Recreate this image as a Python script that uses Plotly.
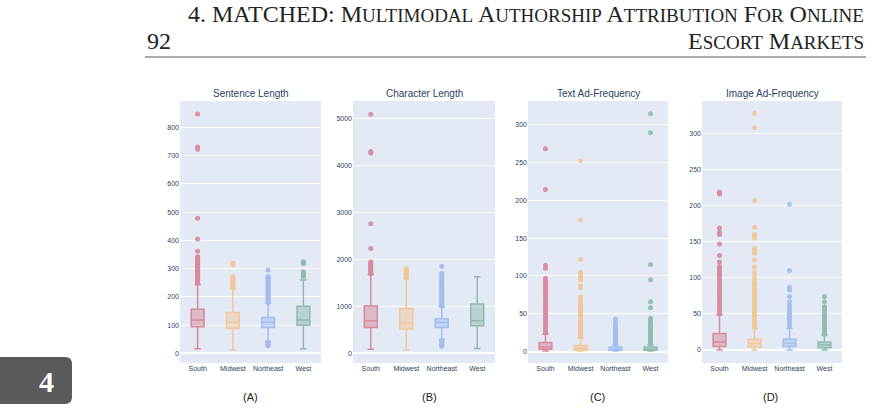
import plotly.graph_objects as go

W, H = 874, 411

regions = ["South", "Midwest", "Northeast", "West"]
colors = ["#d8899a", "#f2c797", "#a3bdef", "#8fbaad"]

panel_titles = ["Sentence Length", "Character Length", "Text Ad-Frequency", "Image Ad-Frequency"]
panel_labels = ["(A)", "(B)", "(C)", "(D)"]

# Sentence Length
sent_q1 = [94, 88, 92, 100]
sent_med = [118, 110, 110, 118]
sent_q3 = [156, 145, 127, 167]
sent_lo = [16, 12, 43, 16]
sent_hi = [244, 229, 177, 260]
sent_out_south = [248, 252, 256, 259, 263, 267, 271, 275, 279, 283, 287, 291, 295, 299, 303, 307,
                  311, 315, 319, 323, 327, 331, 335, 339, 342, 361, 405, 478, 722, 730, 847]
sent_out_midwest = [232, 236, 240, 244, 248, 252, 256, 260, 264, 268, 272, 313, 317, 320]
sent_out_northeast = [27, 30, 33, 36, 39, 180, 184, 188, 192, 196, 200, 204, 208, 212, 216, 220, 224,
                      228, 232, 236, 240, 244, 248, 252, 256, 260, 264, 268, 272, 295]
sent_out_west = [271, 277, 283, 289, 318, 321, 324]

# Character Length
char_q1 = [552, 516, 552, 587]
char_med = [693, 658, 658, 693]
char_q3 = [1005, 956, 736, 1048]
char_lo = [85, 70, 297, 106]
char_hi = [1678, 1593, 991, 1628]
char_out_south = [1700, 1720, 1750, 1780, 1800, 1830, 1860, 1890, 1920, 1950, 2231, 2755, 4260, 4292, 5085]
char_out_midwest = [1610, 1640, 1670, 1700, 1730, 1760, 1790, 1806]
char_out_northeast = [150, 170, 190, 210, 230, 250, 270, 1010, 1040, 1070, 1100, 1130, 1160, 1190, 1220,
                      1250, 1280, 1310, 1340, 1370, 1400, 1430, 1460, 1490, 1520, 1550, 1580, 1610,
                      1640, 1670, 1700, 1855]
char_out_west = []

# Text Ad-Frequency
text_q1 = [3, 2, 2, 2]
text_med = [6, 4, 3, 3]
text_q3 = [12, 8, 6, 6]
text_lo = [1, 1, 1, 1]
text_hi = [23, 18, 9, 9]
text_out_south = [25, 28, 31, 34, 37, 40, 43, 46, 49, 52, 55, 58, 61, 64, 67, 70, 73, 76, 79, 82, 85,
                  88, 91, 94, 97, 110, 114, 214, 268]
text_out_midwest = [20, 22, 24, 26, 28, 30, 32, 34, 36, 38, 40, 42, 44, 46, 48, 50, 52, 54, 56, 58, 60,
                    62, 64, 66, 68, 72, 84, 87, 95, 98, 100, 103, 105, 122, 174, 252]
text_out_northeast = [10, 12, 14, 16, 18, 20, 22, 24, 26, 28, 30, 32, 34, 38, 43]
text_out_west = [10, 12, 14, 16, 18, 20, 22, 24, 26, 28, 30, 32, 34, 36, 38, 42, 44, 58, 66, 95, 115, 289, 314]

# Image Ad-Frequency
img_q1 = [5, 4, 5, 3]
img_med = [11, 9, 9, 7]
img_q3 = [23, 15, 15, 11]
img_lo = [0, 0, 0, 0]
img_hi = [49, 30, 30, 21]
img_out_south = [50, 53, 56, 59, 62, 65, 68, 71, 74, 77, 80, 83, 86, 89, 92, 95, 98, 101, 104, 107,
                 110, 113, 116, 122, 131, 147, 160, 163, 169, 216, 219]
img_out_midwest = [31, 34, 37, 40, 43, 46, 49, 52, 55, 58, 61, 64, 67, 70, 73, 76, 79, 82, 85, 88, 91,
                   93, 98, 103, 108, 115, 125, 134, 138, 141, 155, 158, 160, 170, 207, 308, 328]
img_out_northeast = [32, 35, 38, 41, 44, 47, 50, 53, 56, 60, 62, 67, 74, 83, 87, 110, 202]
img_out_west = [22, 25, 28, 31, 34, 37, 40, 43, 46, 49, 52, 55, 58, 60, 67, 74]

panels = [
    (sent_q1, sent_med, sent_q3, sent_lo, sent_hi,
     [sent_out_south, sent_out_midwest, sent_out_northeast, sent_out_west]),
    (char_q1, char_med, char_q3, char_lo, char_hi,
     [char_out_south, char_out_midwest, char_out_northeast, char_out_west]),
    (text_q1, text_med, text_q3, text_lo, text_hi,
     [text_out_south, text_out_midwest, text_out_northeast, text_out_west]),
    (img_q1, img_med, img_q3, img_lo, img_hi,
     [img_out_south, img_out_midwest, img_out_northeast, img_out_west]),
]

# layout (pixels)
x_domains_px = [(180, 321), (353, 495), (528, 668), (702, 842)]
y_top_px, y_bot_px = 101, 363
y_ranges = [[-34, 893], [-205, 5368], [-15, 331], [-18, 345]]
y_dticks = [100, 1000, 50, 50]
label_x_px = [250, 429, 597, 770]

fig = go.Figure()
for p, (q1, med, q3, lo, hi, outs) in enumerate(panels):
    xa = "x" if p == 0 else f"x{p+1}"
    ya = "y" if p == 0 else f"y{p+1}"
    for i, reg in enumerate(regions):
        fig.add_trace(go.Box(
            x=[reg], q1=[q1[i]], median=[med[i]], q3=[q3[i]],
            lowerfence=[lo[i]], upperfence=[hi[i]],
            boxpoints=False, line=dict(color=colors[i], width=1.5),
            whiskerwidth=0.5, showlegend=False, xaxis=xa, yaxis=ya,
        ))
        if outs[i]:
            fig.add_trace(go.Scatter(
                x=[reg] * len(outs[i]), y=outs[i], mode="markers",
                marker=dict(color=colors[i], size=5, opacity=0.9),
                showlegend=False, xaxis=xa, yaxis=ya,
            ))

axis_font = dict(family="Liberation Sans, Arial", size=7, color="#2a3f5f")
layout = dict(
    width=W, height=H, autosize=False,
    margin=dict(l=0, r=0, t=0, b=0),
    paper_bgcolor="white", plot_bgcolor="#E3EAF5",
    boxgap=0.48,
    font=dict(family="Liberation Sans, Arial", color="#2a3f5f"),
)
for p in range(4):
    sx = "" if p == 0 else str(p + 1)
    x0, x1 = x_domains_px[p]
    layout["xaxis" + sx] = dict(
        domain=[x0 / W, x1 / W], anchor="y" + sx, categoryorder="array",
        categoryarray=regions, tickfont=axis_font, showgrid=False, ticks="",
    )
    layout["yaxis" + sx] = dict(
        domain=[1 - y_bot_px / H, 1 - y_top_px / H], anchor="x" + sx,
        range=y_ranges[p], dtick=y_dticks[p], tick0=0, tickfont=axis_font,
        gridcolor="white", zeroline=True, zerolinecolor="white", zerolinewidth=1.5,
        ticks="", tickformat="d",
    )
fig.update_layout(**layout)

ann = []
for p in range(4):
    x0, x1 = x_domains_px[p]
    ann.append(dict(text=panel_titles[p], x=(x0 + x1) / 2 / W, y=1 - 94 / H, xref="paper", yref="paper",
                    showarrow=False, xanchor="center", yanchor="middle",
                    font=dict(family="Liberation Sans, Arial", size=10, color="#2a3f5f")))
    ann.append(dict(text=panel_labels[p], x=label_x_px[p] / W, y=1 - 397 / H, xref="paper", yref="paper",
                    showarrow=False, xanchor="center", yanchor="middle",
                    font=dict(family="Liberation Sans, Arial", size=11, color="#222222")))

sc = "<span style='font-size:19px'>"
hdr1 = ("4. MATCHED: M" + sc + "ULTIMODAL</span> A" + sc + "UTHORSHIP</span> A" + sc +
        "TTRIBUTION</span> F" + sc + "OR</span> O" + sc + "NLINE</span>")
hdr2 = "E" + sc + "SCORT</span> M" + sc + "ARKETS</span>"
serif = dict(family="Liberation Serif, DejaVu Serif", size=24, color="#222222")
ann.append(dict(text=hdr1, x=866 / W, y=1 - 14 / H, xref="paper", yref="paper", showarrow=False,
                xanchor="right", yanchor="middle", font=serif))
ann.append(dict(text=hdr2, x=866 / W, y=1 - 41 / H, xref="paper", yref="paper", showarrow=False,
                xanchor="right", yanchor="middle", font=serif))
ann.append(dict(text="92", x=145 / W, y=1 - 41 / H, xref="paper", yref="paper", showarrow=False,
                xanchor="left", yanchor="middle", font=serif))
ann.append(dict(text="<b>4</b>", x=46 / W, y=1 - 381 / H, xref="paper", yref="paper", showarrow=False,
                xanchor="center", yanchor="middle",
                font=dict(family="Liberation Serif, DejaVu Serif", size=30, color="white")))

# tab and rule
xl, xr = -0.01, 72 / W
yb, yt = 1 - 404 / H, 1 - 357 / H
rx, ry = 7 / W, 7 / H
tab_path = (f"M {xl},{yb} L {xr - rx},{yb} Q {xr},{yb} {xr},{yb + ry} L {xr},{yt - ry} "
            f"Q {xr},{yt} {xr - rx},{yt} L {xl},{yt} Z")
shapes = [
    dict(type="path", path=tab_path, xref="paper", yref="paper", fillcolor="#5a5a5c",
         line=dict(width=0), layer="below"),
    dict(type="line", x0=145 / W, x1=866 / W, y0=1 - 57 / H, y1=1 - 57 / H, xref="paper", yref="paper",
         line=dict(color="#555555", width=1)),
]
fig.update_layout(annotations=ann, shapes=shapes)

fig.write_html("out.html")
